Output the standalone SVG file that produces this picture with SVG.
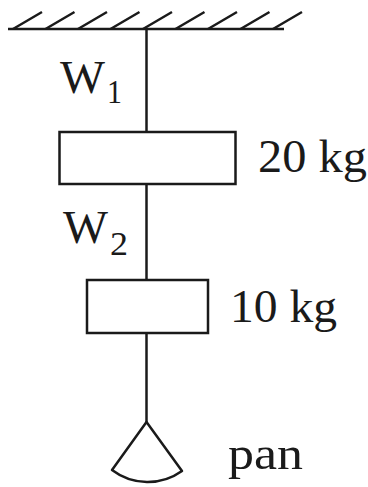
<svg xmlns="http://www.w3.org/2000/svg" width="368" height="487" viewBox="0 0 368 487">
<style>
.ln{stroke:#1a1a1a;stroke-width:2.5;fill:none;stroke-linecap:butt}
.box{stroke:#1a1a1a;stroke-width:2.5;fill:#fff}
.t{font-family:"Liberation Serif","Times New Roman",serif;font-size:46px;fill:#1a1a1a}
.s{font-family:"Liberation Serif","Times New Roman",serif;font-size:33px;fill:#1a1a1a}
</style>
<rect width="368" height="487" fill="#fff"/>
<g id="ceiling">
<line class="ln" x1="8" y1="29" x2="284" y2="29"/>
<path class="ln" d="M13 29L42 12M45.5 29L74.5 12M78 29L107 12M110.5 29L139.5 12M143 29L172 12M175.5 29L204.5 12M208 29L237 12M240.5 29L269.5 12M273 29L302 12"/>
</g>
<g id="connectors">
<line class="ln" x1="146.5" y1="29" x2="146.5" y2="132"/>
<line class="ln" x1="146.5" y1="184" x2="146.5" y2="280"/>
<line class="ln" x1="146.5" y1="333" x2="146.5" y2="422"/>
</g>
<g id="w1label">
<text class="t" x="60" y="93" textLength="45" lengthAdjust="spacingAndGlyphs">W</text>
<text class="s" x="107" y="103" textLength="15" lengthAdjust="spacingAndGlyphs">1</text>
</g>
<g id="mass20">
<rect class="box" x="59.5" y="132" width="176" height="52"/>
<text class="t" x="258" y="172" textLength="109" lengthAdjust="spacingAndGlyphs">20 kg</text>
</g>
<g id="w2label">
<text class="t" x="63" y="243" textLength="45" lengthAdjust="spacingAndGlyphs">W</text>
<text class="s" x="110" y="255" textLength="18" lengthAdjust="spacingAndGlyphs">2</text>
</g>
<g id="mass10">
<rect class="box" x="87" y="280" width="121" height="53"/>
<text class="t" x="230" y="322" textLength="107" lengthAdjust="spacingAndGlyphs">10 kg</text>
</g>
<g id="pan">
<path class="ln" stroke-linejoin="round" d="M146.5 422L112 470A59 59 0 0 0 182 471Z"/>
<text class="t" x="228" y="469" textLength="75" lengthAdjust="spacingAndGlyphs">pan</text>
</g>
</svg>
